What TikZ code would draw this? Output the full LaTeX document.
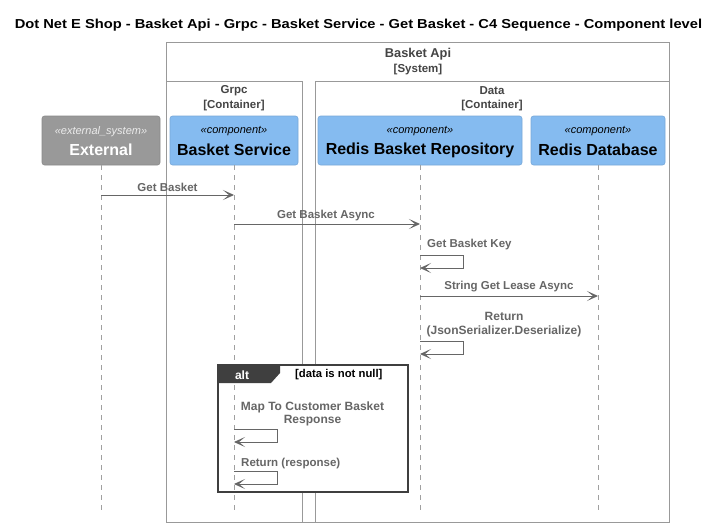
\documentclass[tikz,border=0pt]{standalone}
\usepackage{fontspec}
\setmainfont{Liberation Sans}
\usetikzlibrary{arrows.meta}
\definecolor{c4blue}{HTML}{85BBF0}
\definecolor{c4blueb}{HTML}{78A8D8}
\definecolor{c4ext}{HTML}{999999}
\definecolor{c4extb}{HTML}{8A8A8A}
\definecolor{msg}{HTML}{666666}
\definecolor{bnd}{HTML}{999999}
\definecolor{bndtext}{HTML}{444444}
\definecolor{altdark}{HTML}{3F3F3F}
\definecolor{life}{HTML}{A0A0A0}
\tikzset{
  lbl/.style={font=\fontsize{11.5}{14}\selectfont\bfseries, text=msg, inner sep=0pt},
  bndlbl/.style={font=\fontsize{11.5}{14}\selectfont\bfseries, text=bndtext, inner sep=0pt},
  bndbox/.style={draw=bnd, line width=1pt},
  partbox/.style={fill=c4blue, draw=c4blueb, line width=0.6pt, rounded corners=2.5pt, minimum height=49pt, inner sep=0pt},
  extbox/.style={fill=c4ext, draw=c4extb, line width=0.6pt, rounded corners=2.5pt, minimum height=49pt, inner sep=0pt},
  stereo/.style={font=\fontsize{11}{13}\selectfont\itshape, inner sep=0pt},
  pname/.style={font=\fontsize{16}{18}\selectfont\bfseries, inner sep=0pt},
  lifeline/.style={draw=life, line width=0.8pt, dash pattern=on 5pt off 5pt},
  msgarrow/.style={draw=msg, line width=1pt, -{Stealth[length=11pt,width=10pt,inset=6pt]}},
}
\begin{document}
\begin{tikzpicture}[x=1pt,y=-1pt]
\useasboundingbox[fill=white] (0,0) rectangle (719,527);

% title
\node[font=\fontsize{13}{15}\selectfont\bfseries, inner sep=0pt] (title) at (358.5,25) {\scalebox{1.13}[1]{Dot Net E Shop - Basket Api - Grpc - Basket Service - Get Basket - C4 Sequence - Component level}};

% boundaries
\draw[bndbox] (166,43) rectangle (669,522);
\node[bndlbl, font=\fontsize{12.8}{15}\selectfont\bfseries] (sysname) at (418,54) {Basket Api};
\node[bndlbl] (systype) at (418,70) {[System]};
\draw[bndbox] (166,81) rectangle (302,522);
\node[bndlbl] (grpcname) at (234,91) {Grpc};
\node[bndlbl] (grpctype) at (234,106) {[Container]};
\draw[bndbox] (315,81) rectangle (669,522);
\node[bndlbl] (dataname) at (492,91) {Data};
\node[bndlbl] (datatype) at (492,106) {[Container]};

% participants
\node[extbox, minimum width=118pt] (ext) at (101,140.5) {};
\node[stereo, text=white!92!black] (extst) at (101,131.5) {«external\_system»};
\node[pname, text=white] (extnm) at (101,150) {External};

\node[partbox, minimum width=128pt] (svc) at (234,140.5) {};
\node[stereo] (svcst) at (234,131.5) {«component»};
\node[pname] (svcnm) at (234,150) {Basket Service};

\node[partbox, minimum width=204pt] (repo) at (420,140.5) {};
\node[stereo] (repost) at (420,131.5) {«component»};
\node[pname] (reponm) at (420,150) {Redis Basket Repository};

\node[partbox, minimum width=134pt] (db) at (598,140.5) {};
\node[stereo] (dbst) at (598,131.5) {«component»};
\node[pname] (dbnm) at (598,150) {Redis Database};

% alt fill (covers container borders)
\fill[white] (218,365) rectangle (408,492);

% lifelines
\coordinate (extE) at (101,512);
\coordinate (svcE) at (234,512);
\coordinate (repoE) at (420,512);
\coordinate (dbE) at (598,512);
\draw[lifeline] (ext.south) -- (extE);
\draw[lifeline] (svc.south) -- (svcE);
\draw[lifeline] (repo.south) -- (repoE);
\draw[lifeline] (db.south) -- (dbE);

% alt frame
\draw[draw=altdark, line width=1.5pt] (218,365) rectangle (408,492);
\fill[altdark] (218,365) -- (280,365) -- (280,373) -- (271,383) -- (218,383) -- cycle;
\node[font=\fontsize{12}{14}\selectfont\bfseries, text=white, inner sep=0pt] (altkw) at (242,375) {alt};
\node[font=\fontsize{11.3}{13}\selectfont\bfseries, text=black, inner sep=0pt, anchor=west] (altcond) at (295,375) {[data is not null]};

% messages
\coordinate (m1s) at (101,195); \coordinate (m1e) at (234,195);
\draw[msgarrow] (m1s) -- (m1e);
\node[lbl] (m1l) at (167.5,187) {Get Basket};

\coordinate (m2s) at (234,224); \coordinate (m2e) at (420,224);
\draw[msgarrow] (m2s) -- (m2e);
\node[lbl] (m2l) at (326,216) {Get Basket Async};

\coordinate (m3s) at (420,255); \coordinate (m3e) at (420,268);
\draw[msgarrow] (m3s) -- ++(43,0) |- (m3e);
\node[lbl, anchor=west] (m3l) at (427,245) {Get Basket Key};

\coordinate (m4s) at (420,296); \coordinate (m4e) at (598,296);
\draw[msgarrow] (m4s) -- (m4e);
\node[lbl] (m4l) at (509,287) {String Get Lease Async};

\coordinate (m5s) at (420,341); \coordinate (m5e) at (420,354);
\draw[msgarrow] (m5s) -- ++(43,0) |- (m5e);
\node[lbl, font=\fontsize{12}{13.5}\selectfont\bfseries, align=center] (m5l) at (504,324.5) {Return\\(JsonSerializer.Deserialize)};

\coordinate (m6s) at (234,429); \coordinate (m6e) at (234,442);
\draw[msgarrow] (m6s) -- ++(43,0) |- (m6e);
\node[lbl, font=\fontsize{12}{13.5}\selectfont\bfseries, align=center] (m6l) at (312.5,414) {Map To Customer Basket\\Response};

\coordinate (m7s) at (234,471); \coordinate (m7e) at (234,484);
\draw[msgarrow] (m7s) -- ++(43,0) |- (m7e);
\node[lbl, anchor=west] (m7l) at (241,464) {Return (response)};
\end{tikzpicture}
\end{document}
